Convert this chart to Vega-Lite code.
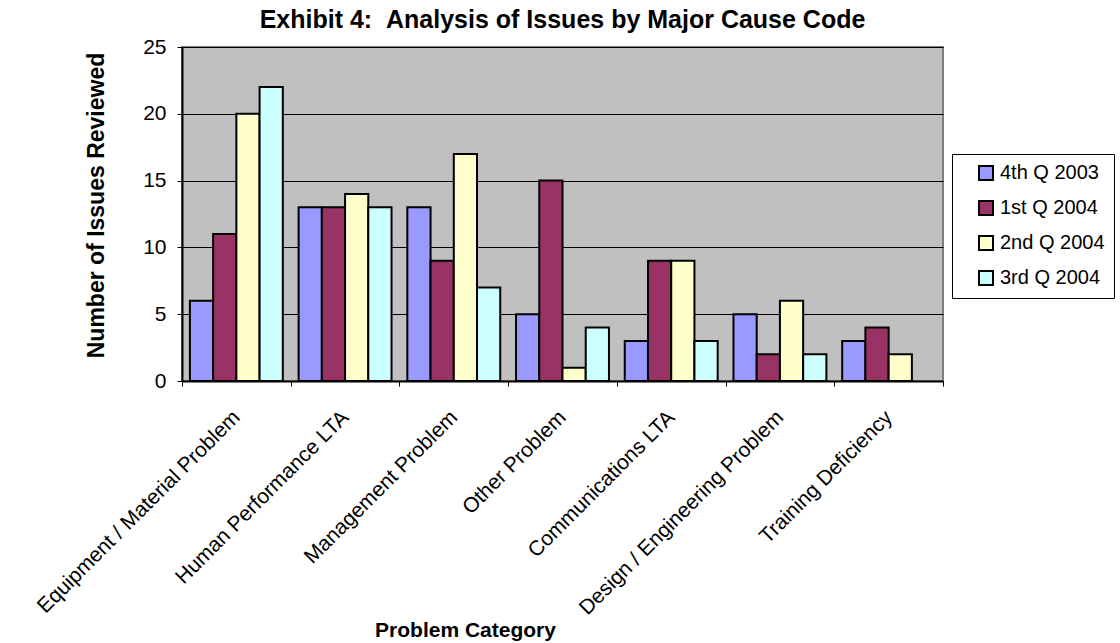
{
  "$schema": "https://vega.github.io/schema/vega-lite/v6.json",
  "width": 761,
  "height": 334,
  "autosize": {"type": "none"},
  "padding": {"left": 182, "top": 47, "right": 177, "bottom": 262},
  "background": "white",
  "title": {
    "text": "Exhibit 4: \u00a0Analysis of Issues by Major Cause Code",
    "fontSize": 25,
    "fontWeight": "bold",
    "anchor": "middle",
    "frame": "group",
    "baseline": "alphabetic",
    "offset": 19,
    "dy": 36,
    "color": "black"
  },
  "data": {
    "values": [
      {"category": "Equipment / Material Problem", "quarter": "4th Q 2003", "issues": 6},
      {"category": "Equipment / Material Problem", "quarter": "1st Q 2004", "issues": 11},
      {"category": "Equipment / Material Problem", "quarter": "2nd Q 2004", "issues": 20},
      {"category": "Equipment / Material Problem", "quarter": "3rd Q 2004", "issues": 22},
      {"category": "Human Performance LTA", "quarter": "4th Q 2003", "issues": 13},
      {"category": "Human Performance LTA", "quarter": "1st Q 2004", "issues": 13},
      {"category": "Human Performance LTA", "quarter": "2nd Q 2004", "issues": 14},
      {"category": "Human Performance LTA", "quarter": "3rd Q 2004", "issues": 13},
      {"category": "Management Problem", "quarter": "4th Q 2003", "issues": 13},
      {"category": "Management Problem", "quarter": "1st Q 2004", "issues": 9},
      {"category": "Management Problem", "quarter": "2nd Q 2004", "issues": 17},
      {"category": "Management Problem", "quarter": "3rd Q 2004", "issues": 7},
      {"category": "Other Problem", "quarter": "4th Q 2003", "issues": 5},
      {"category": "Other Problem", "quarter": "1st Q 2004", "issues": 15},
      {"category": "Other Problem", "quarter": "2nd Q 2004", "issues": 1},
      {"category": "Other Problem", "quarter": "3rd Q 2004", "issues": 4},
      {"category": "Communications LTA", "quarter": "4th Q 2003", "issues": 3},
      {"category": "Communications LTA", "quarter": "1st Q 2004", "issues": 9},
      {"category": "Communications LTA", "quarter": "2nd Q 2004", "issues": 9},
      {"category": "Communications LTA", "quarter": "3rd Q 2004", "issues": 3},
      {"category": "Design / Engineering Problem", "quarter": "4th Q 2003", "issues": 5},
      {"category": "Design / Engineering Problem", "quarter": "1st Q 2004", "issues": 2},
      {"category": "Design / Engineering Problem", "quarter": "2nd Q 2004", "issues": 6},
      {"category": "Design / Engineering Problem", "quarter": "3rd Q 2004", "issues": 2},
      {"category": "Training Deficiency", "quarter": "4th Q 2003", "issues": 3},
      {"category": "Training Deficiency", "quarter": "1st Q 2004", "issues": 4},
      {"category": "Training Deficiency", "quarter": "2nd Q 2004", "issues": 2}
    ]
  },
  "mark": {"type": "bar", "stroke": "black", "strokeWidth": 2},
  "encoding": {
    "x": {
      "field": "category",
      "type": "nominal",
      "sort": ["Equipment / Material Problem", "Human Performance LTA", "Management Problem", "Other Problem", "Communications LTA", "Design / Engineering Problem", "Training Deficiency"],
      "scale": {"paddingInner": 0, "paddingOuter": 0},
      "title": "Problem Category",
      "axis": {
        "labelAngle": -45,
        "labelAlign": "right",
        "labelBaseline": "middle",
        "labelFontSize": 21,
        "labelPadding": 28,
        "labelLimit": 400,
        "labelOverlap": false,
        "labelColor": "black",
        "tickBand": "extent",
        "tickSize": 5,
        "tickColor": "black",
        "domainColor": "black",
        "domainWidth": 2,
        "grid": false,
        "titleFontSize": 21,
        "titleFontWeight": "bold",
        "titleColor": "black",
        "titleX": 283,
        "titleY": 255,
        "titleAlign": "center",
        "titleBaseline": "alphabetic"
      }
    },
    "xOffset": {
      "field": "quarter",
      "type": "nominal",
      "sort": ["4th Q 2003", "1st Q 2004", "2nd Q 2004", "3rd Q 2004"],
      "scale": {"domain": ["4th Q 2003", "1st Q 2004", "2nd Q 2004", "3rd Q 2004"], "paddingInner": 0, "paddingOuter": 0.34}
    },
    "y": {
      "field": "issues",
      "type": "quantitative",
      "scale": {"domain": [0, 25], "nice": false},
      "title": "Number of Issues Reviewed",
      "axis": {
        "values": [0, 5, 10, 15, 20, 25],
        "labelFontSize": 21,
        "labelPadding": 11,
        "labelColor": "black",
        "tickSize": 5,
        "tickColor": "black",
        "domainColor": "black",
        "domainWidth": 2,
        "grid": true,
        "gridColor": "black",
        "gridWidth": 1,
        "gridOpacity": 1,
        "titleFontSize": 23,
        "titleFontWeight": "bold",
        "titleColor": "black",
        "titleX": -79,
        "titleY": 158,
        "titleAlign": "center",
        "titleBaseline": "alphabetic"
      }
    },
    "fill": {
      "field": "quarter",
      "type": "nominal",
      "scale": {
        "domain": ["4th Q 2003", "1st Q 2004", "2nd Q 2004", "3rd Q 2004"],
        "range": ["#9999FF", "#993366", "#FFFFCC", "#CCFFFF"]
      },
      "legend": {
        "orient": "none",
        "legendX": 770,
        "legendY": 107,
        "title": null,
        "fillColor": "white",
        "strokeColor": "black",
        "padding": 9,
        "symbolOffset": 15,
        "symbolType": "square",
        "symbolSize": 196,
        "symbolStrokeColor": "black",
        "symbolStrokeWidth": 2,
        "labelFontSize": 20,
        "labelOffset": 4,
        "labelColor": "black",
        "rowPadding": 13
      }
    }
  },
  "config": {
    "font": "Liberation Sans",
    "view": {"fill": "#C0C0C0", "stroke": "#808080", "strokeWidth": 2}
  }
}
